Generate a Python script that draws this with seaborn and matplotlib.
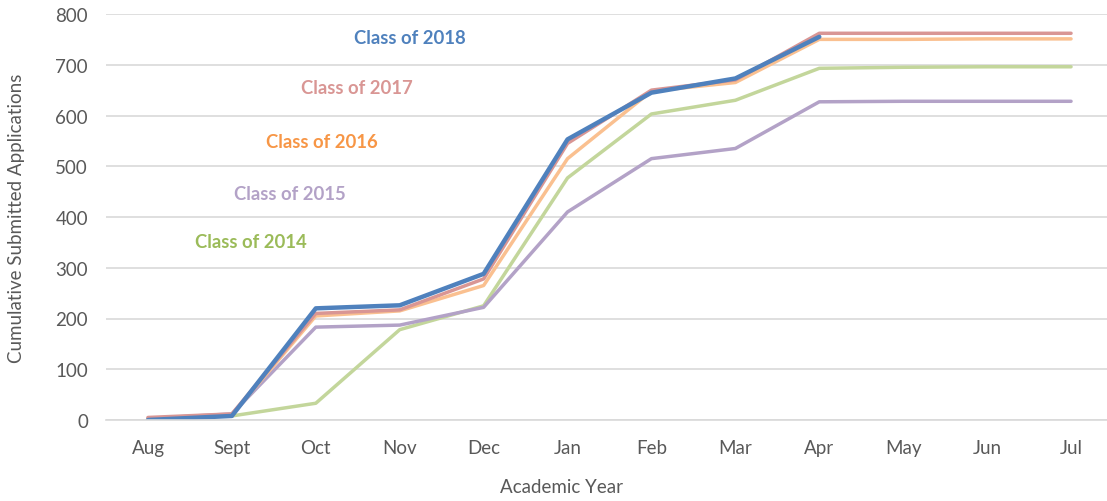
import numpy as np
import pandas as pd
import matplotlib
matplotlib.use("Agg")
import matplotlib.pyplot as plt
import seaborn as sns

months = ["Aug", "Sept", "Oct", "Nov", "Dec", "Jan", "Feb", "Mar", "Apr", "May", "Jun", "Jul"]
nan = np.nan
class_2014 = [nan, 8, 33, 178, 225, 477, 603, 630, 693, 695, 696, 696]
class_2015 = [3, 12, 183, 187, 222, 410, 515, 535, 627, 628, 628, 628]
class_2016 = [3, 10, 205, 215, 265, 515, 648, 665, 750, 750, 751, 751]
class_2017 = [5, 12, 210, 217, 278, 545, 650, 670, 762, 762, 762, 762]
class_2018 = [0, 8, 220, 226, 288, 553, 645, 673, 755, nan, nan, nan]

series = {
    "Class of 2014": class_2014,
    "Class of 2015": class_2015,
    "Class of 2016": class_2016,
    "Class of 2017": class_2017,
    "Class of 2018": class_2018,
}
line_colors = {
    "Class of 2014": "#C3D69B",
    "Class of 2015": "#B3A2C7",
    "Class of 2016": "#FAC090",
    "Class of 2017": "#D99694",
    "Class of 2018": "#4F81BD",
}
label_colors = {
    "Class of 2014": "#9BBB59",
    "Class of 2015": "#B3A2C7",
    "Class of 2016": "#F79646",
    "Class of 2017": "#D99694",
    "Class of 2018": "#4F81BD",
}

rows = []
for name, vals in series.items():
    for m, v in zip(months, vals):
        rows.append({"month": m, "value": v, "cls": name})
df = pd.DataFrame(rows)
df["x"] = df["month"].map({m: i for i, m in enumerate(months)})

sns.set_style("white")
plt.rcParams["font.family"] = ["Lato", "DejaVu Sans"]

fig = plt.figure(figsize=(11.07, 5.02), dpi=100)
ax = fig.add_axes([106 / 1107, 1 - 421 / 502, (1113 - 106) / 1107, (421 - 15) / 502])

for name in series:
    lw = 3.2 if name == "Class of 2018" else 2.5
    sub = df[df["cls"] == name].dropna()
    sns.lineplot(data=sub, x="x", y="value", color=line_colors[name], linewidth=lw,
                 ax=ax, solid_capstyle="round", solid_joinstyle="round", legend=False)

ax.set_xlim(-0.5, 11.5)
ax.set_ylim(0, 800)
ax.set_yticks(range(0, 801, 100))
ax.set_xticks(range(len(months)))
ax.set_xticklabels(months)
ax.yaxis.grid(True, color="#D9D9D9", linewidth=1.2)
ax.set_axisbelow(True)
for s in ["top", "right", "left"]:
    ax.spines[s].set_visible(False)
ax.spines["bottom"].set_color("#D9D9D9")
ax.spines["bottom"].set_linewidth(1.2)
ax.tick_params(axis="both", length=0, labelsize=13.5, colors="#595959")
ax.tick_params(axis="x", pad=14)
ax.tick_params(axis="y", pad=13)
ax.set_xlabel("Academic Year", fontsize=13.5, color="#595959")
ax.set_ylabel("Cumulative Submitted Applications", fontsize=13.5, color="#595959")
ax.xaxis.set_label_coords(0.452, -0.142)
ax.yaxis.set_label_coords(-0.080, 0.5)

label_pos = {
    "Class of 2018": (410, 38),
    "Class of 2017": (357, 88),
    "Class of 2016": (322, 143),
    "Class of 2015": (290, 194),
    "Class of 2014": (251, 242),
}
for name, (px, py) in label_pos.items():
    fig.text(px / 1107, 1 - py / 502, name, color=label_colors[name], fontsize=13.3,
             fontweight="bold", ha="center", va="center")

fig.savefig("out.png", dpi=100)
